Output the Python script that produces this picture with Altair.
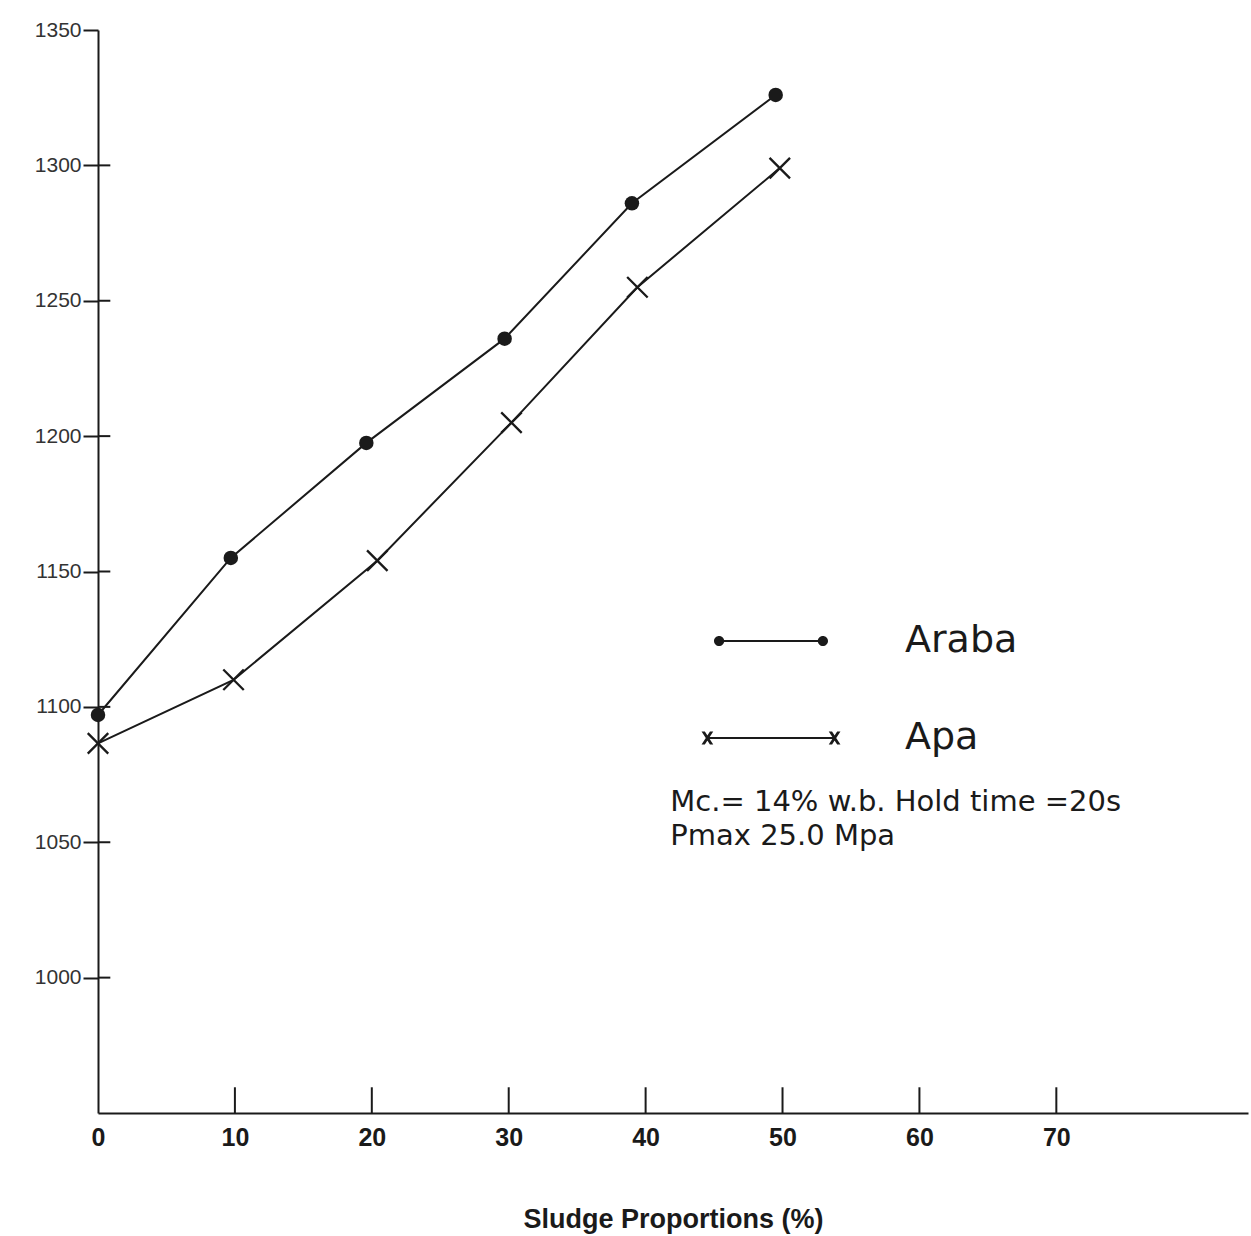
import altair as alt
import pandas as pd

# ---- data ----
araba_x = [0, 9.7, 19.6, 29.7, 39.0, 49.5]
araba_y = [1097, 1155, 1197.5, 1236, 1286, 1326]
apa_x = [0, 9.9, 20.4, 30.2, 39.4, 49.8]
apa_y = [1086.5, 1110, 1154, 1205, 1255, 1299]
series_names = ["Araba", "Apa"]
x_ticks = [0, 10, 20, 30, 40, 50, 60, 70]
x_inner_ticks = [10, 20, 30, 40, 50, 60, 70]
y_ticks = [1000, 1050, 1100, 1150, 1200, 1250, 1300, 1350]
y_inner_ticks = [1000, 1050, 1100, 1150, 1200, 1250, 1300]
note_lines = ["Mc.= 14% w.b. Hold time =20s", "Pmax 25.0 Mpa"]

df = pd.DataFrame({
    "x": araba_x + apa_x,
    "y": araba_y + apa_y,
    "series": ["Araba"] * len(araba_x) + ["Apa"] * len(apa_x),
})
xticks_df = pd.DataFrame({"x": x_inner_ticks})
yticks_df = pd.DataFrame({"y": y_inner_ticks})

INK = "#1a1a1a"
X_PATH = "M-1,-1L1,1M-1,1L1,-1"


def _f(v):
    return f"{v:.3f}"


def bar(x0, x1, h):
    # clockwise rectangle
    return f"M{_f(x0)},{_f(-h)}H{_f(x1)}V{_f(h)}H{_f(x0)}Z"


def dot(cx, r):
    # clockwise circle (same winding as the bar, so overlaps stay filled)
    return (f"M{_f(cx - r)},0A{_f(r)},{_f(r)} 0 1,1 {_f(cx + r)},0"
            f"A{_f(r)},{_f(r)} 0 1,1 {_f(cx - r)},0Z")


def cross(cx, a, b, t):
    s1 = (f"M{_f(cx - a - t)},{_f(-b)}L{_f(cx - a + t)},{_f(-b)}"
          f"L{_f(cx + a + t)},{_f(b)}L{_f(cx + a - t)},{_f(b)}Z")
    s2 = (f"M{_f(cx - a - t)},{_f(b)}L{_f(cx + a - t)},{_f(-b)}"
          f"L{_f(cx + a + t)},{_f(-b)}L{_f(cx - a + t)},{_f(b)}Z")
    return s1 + s2


# legend glyphs (unit = 30 px, symbolSize 3600)
LEG_ARABA = bar(-1.73, 1.73, 0.035) + dot(-1.73, 0.17) + dot(1.73, 0.17)
LEG_APA = (bar(-2.1, 2.1, 0.035) + cross(-2.12, 0.14, 0.22, 0.055)
           + cross(2.12, 0.14, 0.22, 0.055))

xscale = alt.Scale(domain=[0, 84], nice=False, zero=False)
yscale = alt.Scale(domain=[950, 1350], nice=False, zero=False)

xenc = alt.X("x:Q", scale=xscale, title="Sludge Proportions (%)",
             axis=alt.Axis(values=x_ticks, ticks=False, grid=False, format="d",
                           labelFlush=False,
                           labelFont="Liberation Sans", labelFontSize=25,
                           labelFontWeight="bold", labelColor=INK, labelPadding=12,
                           titleFont="Liberation Sans", titleFontSize=27,
                           titleFontWeight="bold", titleColor=INK, titlePadding=56,
                           domainColor=INK, domainWidth=2))
yenc = alt.Y("y:Q", scale=yscale, title=None,
             axis=alt.Axis(values=y_ticks, grid=False, format="d",
                           tickSize=15, tickWidth=2, tickColor=INK,
                           labelFlush=False,
                           labelFont="Liberation Sans", labelFontSize=21,
                           labelColor="#333", labelPadding=2,
                           domainColor=INK, domainWidth=2))

base = alt.Chart(df)

lines = base.mark_line(color=INK, strokeWidth=2).encode(
    x=xenc, y=yenc, detail="series:N")

araba_pts = base.transform_filter(alt.datum.series == "Araba").mark_point(
    shape="circle", filled=True, color=INK, size=210, opacity=1).encode(
    x="x:Q", y="y:Q")

apa_pts = base.transform_filter(alt.datum.series == "Apa").mark_point(
    shape=X_PATH, filled=False, color=INK, strokeWidth=2.3, size=420, opacity=1).encode(
    x="x:Q", y="y:Q")

x_inner = alt.Chart(xticks_df).mark_rule(color=INK, strokeWidth=2).encode(
    x="x:Q", y=alt.datum(950), y2=alt.datum(959.5))

y_inner = alt.Chart(yticks_df).mark_rule(color=INK, strokeWidth=2).encode(
    y="y:Q", x=alt.datum(0), x2=alt.datum(0.9))

legend_layer = base.transform_filter("false").mark_point(
    filled=True, color=INK, opacity=1).encode(
    x="x:Q", y="y:Q",
    shape=alt.Shape("series:N",
                    scale=alt.Scale(domain=series_names, range=[LEG_ARABA, LEG_APA]),
                    legend=alt.Legend(orient="none", legendX=643, legendY=581,
                                      title=None, symbolSize=3600,
                                      symbolFillColor=INK, symbolOpacity=1,
                                      symbolStrokeWidth=0,
                                      labelFont="DejaVu Sans", labelFontSize=38,
                                      labelColor=INK, labelOffset=104,
                                      rowPadding=48, padding=0, labelLimit=400)))

note = alt.Chart(pd.DataFrame({"t": [0]})).mark_text(
    align="left", baseline="middle", font="DejaVu Sans", fontSize=29,
    color=INK, lineHeight=34).encode(
    x=alt.datum(41.8), y=alt.datum(1065), text=alt.value(note_lines))

chart = alt.layer(lines, x_inner, y_inner, araba_pts, apa_pts, legend_layer, note).properties(
    width=1150, height=1083,
    autosize=alt.AutoSizeParams(type="none"),
    padding={"left": 98, "top": 30, "right": 3, "bottom": 123},
    background="white",
).configure_view(stroke=None)

chart.save("out.html", embed_options={"renderer": "svg", "actions": False})
